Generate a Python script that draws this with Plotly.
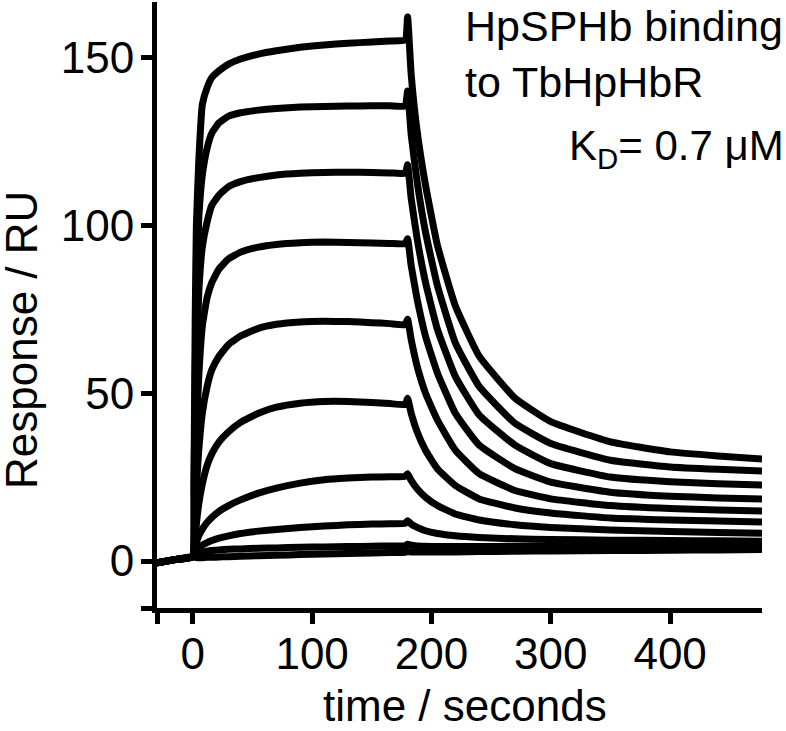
import plotly.graph_objects as go

# pre-injection baseline (shared by all curves)
t_base = [-30, -15, 0]
r_base = [-0.5, 0.4, 1.3]

# association phase, seconds
t_assoc = [0, 1, 2, 3, 5, 8, 12, 16, 22, 30, 40, 55, 70, 90, 110, 130, 150, 165, 178]
assoc = [
    [1.3, 25, 72, 100, 119, 136, 141, 144, 146, 148, 149.5, 151, 152, 153, 153.7, 154.2, 154.6, 154.9, 155.2],
    [1.3, 20, 55, 80, 102, 115, 123, 127.5, 130.5, 132.5, 133.5, 134.3, 134.8, 135.2, 135.4, 135.5, 135.6, 135.6, 135.5],
    [1.3, 14, 38, 58, 80, 93.6, 101, 106, 109, 111.5, 113, 114.2, 115, 115.5, 115.7, 115.8, 115.7, 115.6, 115.5],
    [1.3, 9, 25, 38, 55, 70, 78.5, 83, 87, 90, 92, 93.5, 94.3, 94.8, 95, 94.9, 94.7, 94.6, 94.5],
    [1.3, 5, 14, 22, 33, 44, 52, 57, 61, 64.5, 67, 69.3, 70.5, 71.2, 71.4, 71.3, 71, 70.7, 70.4],
    [1.3, 3, 7, 11, 17, 23, 28.5, 32, 35.5, 38.5, 41.3, 44, 45.8, 47, 47.5, 47.5, 47.2, 46.9, 46.6],
    [1.3, 2, 4, 5.5, 7.5, 9.5, 11.5, 13, 14.8, 16.5, 18.2, 20.2, 21.7, 23.2, 24.2, 24.7, 25, 25.1, 25.2],
    [1.3, 1.8, 2.5, 3, 3.8, 4.7, 5.5, 6.1, 6.8, 7.5, 8.2, 8.9, 9.4, 10, 10.4, 10.8, 11, 11.1, 11.2],
    [1.3, 1.5, 1.8, 2, 2.3, 2.6, 2.9, 3.1, 3.3, 3.5, 3.6, 3.8, 3.9, 4.1, 4.2, 4.3, 4.4, 4.5, 4.5],
    [1.3, 1.2, 1.1, 1.0, 1.0, 1.0, 1.1, 1.1, 1.2, 1.3, 1.4, 1.6, 1.7, 1.9, 2.1, 2.2, 2.4, 2.5, 2.6],
]

# dissociation phase
t_dissoc = [180, 183, 188, 195, 205, 220, 240, 270, 300, 350, 400, 440, 477]
dissoc = [
    [162, 145, 128, 112, 94, 76, 61, 48.5, 41.5, 35.5, 32.5, 31.3, 30.4],
    [140, 127, 113, 98, 82, 65, 52, 41, 35, 30, 28, 27.3, 26.8],
    [118, 108, 96, 83, 69, 55, 43.5, 34.5, 29, 25, 23.6, 23, 22.6],
    [96, 88, 78, 67, 56, 44, 34.5, 27.5, 23.5, 20.5, 19.3, 18.8, 18.5],
    [72, 66, 58, 50, 42, 33, 26, 21, 18.5, 16.5, 15.6, 15.2, 14.9],
    [48.5, 44, 38.5, 33, 27.5, 22.5, 18.5, 15.8, 14.3, 12.8, 12.2, 11.9, 11.6],
    [26, 24, 21.5, 19, 16.5, 14, 12.2, 10.8, 10, 9.2, 8.8, 8.5, 8.3],
    [12, 11, 10, 9, 8.2, 7.5, 7, 6.6, 6.4, 6.2, 6.1, 6, 5.9],
    [5, 4.7, 4.5, 4.4, 4.3, 4.3, 4.3, 4.4, 4.4, 4.5, 4.5, 4.5, 4.5],
    [2.8, 2.7, 2.7, 2.7, 2.7, 2.7, 2.8, 2.9, 3.0, 3.1, 3.2, 3.3, 3.4],
]

x_ticks = [-30, 0, 100, 200, 300, 400]
x_labels = ["", "0", "100", "200", "300", "400"]
y_ticks = [-14, 0, 50, 100, 150]
y_labels = ["", "0", "50", "100", "150"]

FONT = "Liberation Sans, Arial, sans-serif"
LW = 7

fig = go.Figure()
for a, d in zip(assoc, dissoc):
    fig.add_trace(go.Scatter(
        x=t_base + t_assoc[1:] + t_dissoc,
        y=r_base + a[1:] + d,
        mode="lines",
        line=dict(color="black", width=LW, shape="spline", smoothing=0.4),
        showlegend=False,
        cliponaxis=False,
        hoverinfo="skip",
    ))

W, H = 786, 731
ml, mr, mt, mb = 157, 24, 2, 123
pw, ph = W - ml - mr, H - mt - mb


def px(x):
    return (x - ml) / pw


def py(y):
    return (H - mb - y) / ph


axis_common = dict(
    showline=True, linecolor="black", linewidth=5,
    ticks="outside", ticklen=11, tickwidth=5, tickcolor="black",
    showgrid=False, zeroline=False,
    tickfont=dict(family=FONT, size=44, color="black"),
)

fig.update_layout(
    width=W, height=H,
    margin=dict(l=ml, r=mr, t=mt, b=mb),
    paper_bgcolor="white", plot_bgcolor="white",
    xaxis=dict(range=[-30, 477], tickvals=x_ticks, ticktext=x_labels,
               ticklabelstandoff=-8, **axis_common),
    yaxis=dict(range=[-14, 166.5], tickvals=y_ticks, ticktext=y_labels,
               ticklabelstandoff=-2, **axis_common),
    annotations=[
        dict(text="time / seconds", x=px(465), y=py(705), xref="paper", yref="paper",
             showarrow=False, xanchor="center", yanchor="middle",
             font=dict(family=FONT, size=44, color="black")),
        dict(text="Response / RU", x=px(21), y=py(340), xref="paper", yref="paper",
             showarrow=False, xanchor="center", yanchor="middle", textangle=-90,
             font=dict(family=FONT, size=44, color="black")),
        dict(text="HpSPHb binding<br>to TbHpHbR", x=px(463), y=py(0), xref="paper", yref="paper",
             showarrow=False, xanchor="left", yanchor="top", align="left",
             font=dict(family=FONT, size=43, color="black")),
        dict(text="K<sub>D</sub>= 0.7 \u03bcM", x=px(786), y=py(120), xref="paper", yref="paper",
             showarrow=False, xanchor="right", yanchor="top", align="right",
             font=dict(family=FONT, size=42, color="black")),
    ],
)

# page body has a default 8px margin; drop it so the figure sits at the window corner
fig.write_html("out.html", config={"displayModeBar": False},
               post_script="document.body.style.margin='0';")
